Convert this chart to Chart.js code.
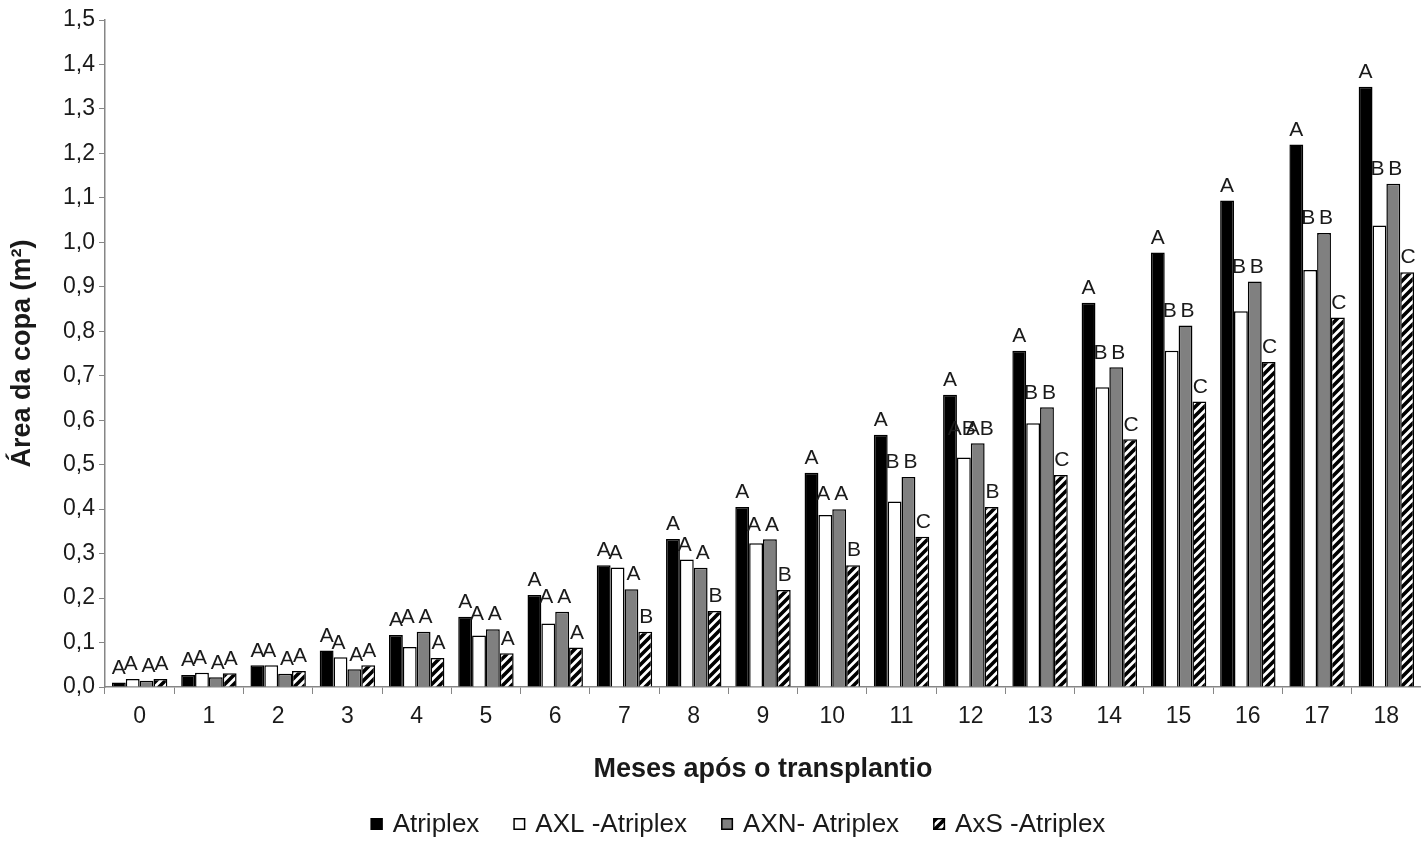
<!DOCTYPE html>
<html>
<head>
<meta charset="utf-8">
<script src="https://cdn.jsdelivr.net/npm/chart.js@4.4.0/dist/chart.umd.min.js"></script>
<style>
  body { margin: 0; background: #fff; }
  #wrap { width: 1421px; height: 841px; }
</style>
</head>
<body>
<div id="wrap"><canvas id="copa-chart" width="1421" height="841"></canvas></div>
<script>
// meses após o transplantio
const months = ['0','1','2','3','4','5','6','7','8','9','10','11','12','13','14','15','16','17','18'];

// área da copa (m²)
const atriplex = [0.010,0.027,0.049,0.082,0.117,0.158,0.207,0.274,0.333,0.405,0.482,0.567,0.657,0.756,0.864,0.977,1.094,1.220,1.350];
const axl      = [0.018,0.032,0.049,0.067,0.090,0.116,0.143,0.269,0.287,0.323,0.387,0.417,0.516,0.593,0.674,0.756,0.845,0.938,1.038];
const axn      = [0.014,0.022,0.030,0.040,0.124,0.130,0.169,0.220,0.268,0.332,0.400,0.472,0.548,0.629,0.719,0.813,0.912,1.021,1.132];
const axs      = [0.018,0.031,0.036,0.049,0.065,0.076,0.089,0.124,0.171,0.218,0.274,0.338,0.405,0.477,0.557,0.642,0.731,0.831,0.933];

// letras do teste de médias
const lettersAtriplex = ['A','A','A','A','A','A','A','A','A','A','A','A','A','A','A','A','A','A','A'];
const lettersAxl      = ['A','A','A','A','A','A','A','A','A','A','A','B','AB','B','B','B','B','B','B'];
const lettersAxn      = ['A','A','A','A','A','A','A','A','A','A','A','B','AB','B','B','B','B','B','B'];
const lettersAxs      = ['A','A','A','A','A','A','A','B','B','B','B','C','B','C','C','C','C','C','C'];

const yTickLabels = ['0,0','0,1','0,2','0,3','0,4','0,5','0,6','0,7','0,8','0,9','1,0','1,1','1,2','1,3','1,4','1,5'];
const seriesNames = ['Atriplex', 'AXL -Atriplex', 'AXN- Atriplex', 'AxS -Atriplex'];

const FONT = "'Liberation Sans', Arial, sans-serif";
const AXIS = '#868686';
const TXT = '#1a1a1a';

// diagonal hatch for AxS
function makeHatch() {
  const c = document.createElement('canvas');
  c.width = 9; c.height = 9;
  const g = c.getContext('2d');
  g.fillStyle = '#fff';
  g.fillRect(0, 0, 9, 9);
  g.strokeStyle = '#000';
  g.lineWidth = 3.6;
  g.beginPath();
  g.moveTo(-2, 11); g.lineTo(11, -2);
  g.moveTo(-2, 2); g.lineTo(2, -2);
  g.moveTo(7, 11); g.lineTo(11, 7);
  g.stroke();
  return g.createPattern(c, 'repeat');
}
const hatch = makeHatch();

const letterSets = [lettersAtriplex, lettersAxl, lettersAxn, lettersAxs];
const letterShift = [0, -2, 2, 1];

const barLetters = {
  id: 'barLetters',
  afterDatasetsDraw(chart) {
    const ctx = chart.ctx;
    ctx.save();
    ctx.font = '21px ' + FONT;
    ctx.fillStyle = TXT;
    ctx.textAlign = 'center';
    ctx.textBaseline = 'bottom';
    chart.data.datasets.forEach((ds, i) => {
      const meta = chart.getDatasetMeta(i);
      meta.data.forEach((bar, j) => {
        let y = bar.y;
        if (i === 1) y = Math.min(y, chart.getDatasetMeta(2).data[j].y);
        ctx.fillText(letterSets[i][j], bar.x + letterShift[i], y - 4);
      });
    });
    ctx.restore();
  }
};

const bottomLegend = {
  id: 'bottomLegend',
  afterDraw(chart) {
    const ctx = chart.ctx;
    ctx.save();
    ctx.font = '26px ' + FONT;
    const box = 12, gapText = 10, gapItem = 34;
    const widths = chart.data.datasets.map(ds => ctx.measureText(ds.label).width);
    let total = widths.reduce((a, w) => a + box + gapText + w, 0) + gapItem * (widths.length - 1);
    let x = 738 - total / 2;
    const cy = 824;
    chart.data.datasets.forEach((ds, i) => {
      ctx.fillStyle = ds.backgroundColor;
      ctx.fillRect(x, cy - box / 2, box, box);
      ctx.strokeStyle = '#000';
      ctx.lineWidth = 1.5;
      ctx.strokeRect(x + 0.75, cy - box / 2 + 0.75, box - 1.5, box - 1.5);
      ctx.fillStyle = TXT;
      ctx.textAlign = 'left';
      ctx.textBaseline = 'middle';
      ctx.fillText(ds.label, x + box + gapText, cy + 1);
      x += box + gapText + widths[i] + gapItem;
    });
    ctx.restore();
  }
};

new Chart(document.getElementById('copa-chart'), {
  type: 'bar',
  data: {
    labels: months,
    datasets: [
      { label: seriesNames[0], data: atriplex, backgroundColor: '#000000', borderColor: '#000', borderWidth: 1.5 },
      { label: seriesNames[1], data: axl, backgroundColor: '#ffffff', borderColor: '#000', borderWidth: 1.5 },
      { label: seriesNames[2], data: axn, backgroundColor: '#808080', borderColor: '#000', borderWidth: 1.5 },
      { label: seriesNames[3], data: axs, backgroundColor: hatch, borderColor: '#000', borderWidth: 1.5 }
    ]
  },
  options: {
    responsive: false,
    animation: false,
    devicePixelRatio: 1,
    layout: { padding: { top: 20, right: 0, bottom: 0, left: 0 } },
    datasets: { bar: { categoryPercentage: 0.8, barPercentage: 1.0 } },
    plugins: {
      legend: { display: false },
      tooltip: { enabled: false }
    },
    scales: {
      x: {
        offset: true,
        grid: { drawOnChartArea: false, drawTicks: true, tickLength: 7, color: AXIS, offset: true },
        border: { color: AXIS, width: 1.5 },
        ticks: { font: { family: FONT, size: 23 }, color: TXT, padding: 9 },
        title: {
          display: true,
          text: 'Meses após o transplantio',
          font: { family: FONT, size: 27, weight: 'bold' },
          color: TXT,
          padding: { top: 0, bottom: 55 }
        },
        afterFit(s) { s.height = 154; }
      },
      y: {
        min: 0,
        max: 1.5,
        ticks: {
          stepSize: 0.1,
          font: { family: FONT, size: 23 },
          color: TXT,
          padding: 4,
          callback: (v, i) => yTickLabels[i]
        },
        grid: { drawOnChartArea: false, drawTicks: true, tickLength: 6, color: AXIS },
        border: { color: AXIS, width: 1.5 },
        title: {
          display: true,
          text: 'Área da copa (m²)',
          font: { family: FONT, size: 27, weight: 'bold' },
          color: TXT,
          padding: { top: 6, bottom: 0 }
        },
        afterFit(s) { s.width = 105; }
      }
    }
  },
  plugins: [barLetters, bottomLegend]
});
</script>
</body>
</html>
